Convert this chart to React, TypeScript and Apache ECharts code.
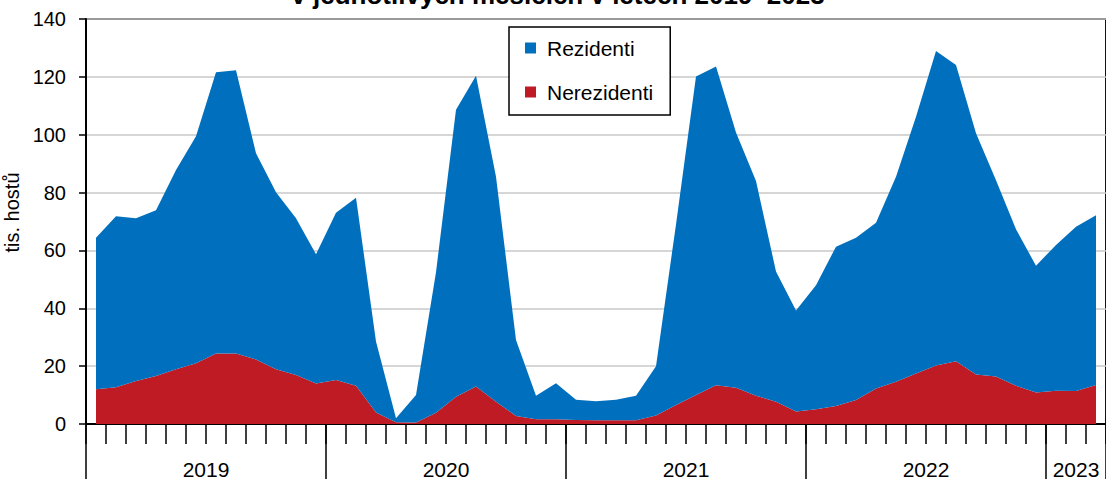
import React, { useEffect, useRef } from "react";
import * as echarts from "echarts";

const years = ["2019", "2020", "2021", "2022", "2023"];
const monthsPerYear = [12, 12, 12, 12, 3];

const nerezidenti = [
  12.0, 12.7, 14.9, 16.6, 18.9, 21.0, 24.4, 24.4, 22.3, 18.9, 16.9, 14.0,
  15.2, 13.2, 4.0, 0.6, 0.5, 3.9, 9.4, 13.0, 7.7, 2.8, 1.6, 1.6,
  1.4, 1.3, 1.3, 1.3, 2.9, 6.6, 10.0, 13.4, 12.5, 9.8, 7.7, 4.3,
  5.1, 6.2, 8.3, 12.3, 14.6, 17.5, 20.2, 21.7, 17.1, 16.4, 13.2, 10.9,
  11.5, 11.4, 13.5,
];

const rezidenti = [
  52.4, 59.1, 56.2, 57.3, 68.9, 78.5, 97.2, 97.9, 71.3, 61.2, 54.2, 44.7,
  57.8, 65.0, 24.5, 1.4, 9.5, 48.6, 99.2, 107.4, 77.8, 26.2, 8.2, 12.5,
  7.0, 6.6, 7.1, 8.5, 17.1, 62.4, 110.1, 110.2, 88.3, 74.2, 45.0, 34.9,
  42.9, 55.1, 56.1, 57.3, 70.9, 88.7, 108.7, 102.4, 83.4, 67.9, 54.1, 43.8,
  50.4, 56.8, 58.7,
];

const yTicks = [0, 20, 40, 60, 80, 100, 120, 140];

const titleText = "v jednotlivých měsících v letech 2019–2023";
const yName = "tis. hostů";

// Build month categories and year positions from the arrays above
const months: string[] = [];
const yearStarts: number[] = [];
const yearCenters: Record<string, string> = {};
{
  let idx = 0;
  years.forEach((y, k) => {
    yearStarts.push(idx);
    for (let m = 1; m <= monthsPerYear[k]; m++) {
      months.push(`${y}-${String(m).padStart(2, "0")}`);
    }
    yearCenters[String(idx + monthsPerYear[k] / 2)] = y;
    idx += monthsPerYear[k];
  });
}

const FONT = "'Liberation Sans', Arial, sans-serif";

export default function App() {
  const ref = useRef<HTMLDivElement>(null);
  useEffect(() => {
    document.body.style.margin = "0";
    const chart = echarts.init(ref.current!, null, { renderer: "svg" });
    chart.setOption({
      animation: false,
      textStyle: { fontFamily: FONT },
      grid: {
        left: 86,
        right: 0,
        top: 19,
        bottom: 55,
        containLabel: false,
        outerBoundsMode: "none",
        show: true,
        borderColor: "#111",
        borderWidth: 2,
        backgroundColor: "transparent",
      },
      legend: {
        left: 509,
        top: 27,
        orient: "vertical",
        data: ["Rezidenti", "Nerezidenti"],
        icon: "rect",
        itemWidth: 11,
        itemHeight: 11,
        itemGap: 20,
        padding: [9, 17, 11, 16],
        borderColor: "#000",
        borderWidth: 1.5,
        backgroundColor: "#fff",
        textStyle: { fontSize: 21, color: "#000", fontFamily: FONT, lineHeight: 24, padding: [0, 0, 0, 6] },
      },
      graphic: [
        {
          type: "text",
          x: 558,
          y: -18,
          style: {
            text: titleText,
            fontSize: 26,
            fontWeight: "bold",
            fontFamily: FONT,
            fill: "#000",
            align: "center",
            verticalAlign: "top",
          },
        },
      ],
      xAxis: [
        {
          type: "category",
          data: months,
          boundaryGap: true,
          position: "bottom",
          axisLine: { show: true, lineStyle: { color: "#000", width: 2 } },
          axisTick: { show: true, interval: 0, length: 20, lineStyle: { color: "#000", width: 1.5 } },
          axisLabel: { show: false },
          splitLine: { show: false },
        },
        {
          type: "category",
          data: months,
          boundaryGap: true,
          position: "bottom",
          axisLine: { show: false },
          axisTick: {
            show: true,
            interval: (i: number) => yearStarts.includes(i),
            length: 56,
            lineStyle: { color: "#000", width: 1.5 },
          },
          axisLabel: { show: false },
          splitLine: { show: false },
        },
        {
          type: "value",
          min: 0,
          max: months.length,
          interval: 0.5,
          position: "bottom",
          axisLine: { show: false },
          axisTick: { show: false },
          splitLine: { show: false },
          axisLabel: {
            show: true,
            margin: 36,
            fontSize: 21,
            lineHeight: 18,
            color: "#000",
            fontFamily: FONT,
            formatter: (v: number) => yearCenters[String(v)] ?? "",
          },
        },
      ],
      yAxis: {
        type: "value",
        min: yTicks[0],
        max: yTicks[yTicks.length - 1],
        interval: yTicks[1] - yTicks[0],
        name: yName,
        nameLocation: "middle",
        nameGap: 58,
        nameTextStyle: { fontSize: 20, color: "#000", fontFamily: FONT, padding: [0, 0, 0, 18] },
        axisLine: { show: true, lineStyle: { color: "#000", width: 2 } },
        axisTick: { show: true, length: 7, lineStyle: { color: "#000", width: 1.5 } },
        axisLabel: { fontSize: 20, color: "#000", margin: 20, fontFamily: FONT },
        splitLine: { show: true, lineStyle: { color: "#c8c8c8", width: 1.5 } },
      },
      series: [
        {
          name: "Nerezidenti",
          type: "line",
          stack: "total",
          data: nerezidenti,
          symbol: "none",
          lineStyle: { width: 0 },
          itemStyle: { color: "#BE1B24" },
          areaStyle: { color: "#BE1B24", opacity: 1 },
        },
        {
          name: "Rezidenti",
          type: "line",
          stack: "total",
          data: rezidenti,
          symbol: "none",
          lineStyle: { width: 0 },
          itemStyle: { color: "#0070BE" },
          areaStyle: { color: "#0070BE", opacity: 1 },
        },
      ],
    });
    return () => chart.dispose();
  }, []);
  return <div ref={ref} style={{ width: 1106, height: 479 }} />;
}
